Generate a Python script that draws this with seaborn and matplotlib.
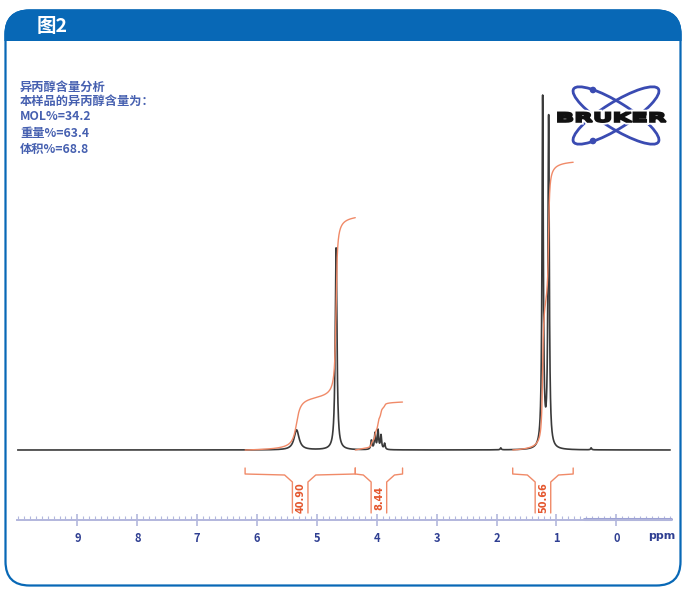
import numpy as np
import pandas as pd
import seaborn as sns
import matplotlib.pyplot as plt
from matplotlib.patches import FancyBboxPatch, Rectangle, Ellipse, Circle, PathPatch
from matplotlib.textpath import TextPath
from matplotlib.font_manager import FontProperties
from matplotlib.transforms import Affine2D
from matplotlib.ticker import MultipleLocator, FixedLocator

# peaks: shift (ppm), height, half width (ppm)
peak_ppm = [5.34, 4.68, 4.09, 4.03, 3.98, 3.93, 3.87, 1.93, 1.23, 1.13, 0.42]
peak_height = [20, 202, 9, 16, 19, 14, 6, 2, 350, 330, 2]
peak_width = [0.05, 0.017, 0.012, 0.012, 0.012, 0.012, 0.012, 0.01, 0.013, 0.013, 0.01]

# integral regions (ppm) and their values
region_start = [6.20, 4.36, 1.73]
region_end = [4.36, 3.57, 0.72]
integral_value = [40.90, 8.44, 50.66]

tick_values = [9, 8, 7, 6, 5, 4, 3, 2, 1, 0]

title_text = "图2"
info_lines = ["异丙醇含量分析", "本样品的异丙醇含量为：", "MOL%=34.2", "重量%=63.4", "体积%=68.8"]
info_y = [87, 101, 117, 133, 150]

BLUE = "#0868b6"
TXT_BLUE = "#4660b0"
AXIS_BLUE = "#b3b7dd"
TICK_BLUE = "#2f3f92"
ORANGE = "#f08a68"
RED = "#e4572e"
LOGO_BLUE = "#3a4bb2"

sns.set_theme(style="white")
plt.rcParams["font.family"] = ["Noto Sans CJK SC", "DejaVu Sans"]

ppm = np.linspace(10.0, -0.9, 6000)
spec = np.zeros_like(ppm)
for c, h, w in zip(peak_ppm, peak_height, peak_width):
    spec += h * w ** 2 / ((ppm - c) ** 2 + w ** 2)
df = pd.DataFrame({"ppm": ppm, "intensity": spec})

fig = plt.figure(figsize=(6.83, 5.89), dpi=100)

# frame and header
deco = fig.add_axes([0, 0, 1, 1], zorder=0)
deco.set_xlim(0, 683)
deco.set_ylim(589, 0)
deco.axis("off")
frame = FancyBboxPatch((5.5, 10.5), 675, 575, boxstyle="round,pad=0,rounding_size=24",
                       fc="white", ec=BLUE, lw=1.6)
deco.add_patch(frame)
header = FancyBboxPatch((5.5, 10.5), 675, 575, boxstyle="round,pad=0,rounding_size=24",
                        fc=BLUE, ec=BLUE, lw=1.6)
deco.add_patch(header)
header.set_clip_path(Rectangle((0, 0), 683, 40.5, transform=deco.transData))
deco.text(37, 27, title_text, color="white", fontsize=14, fontweight="bold",
          ha="left", va="center")

for line, y in zip(info_lines, info_y):
    deco.text(20, y, line, color=TXT_BLUE, fontsize=8.8, fontweight="bold",
              ha="left", va="center")

# logo
for ang in (32, -32):
    deco.add_patch(Ellipse((616, 115.5), 100, 26, angle=ang, fill=False,
                           ec=LOGO_BLUE, lw=2.0, zorder=2))
for cy in (90, 141):
    deco.add_patch(Circle((593, cy), 3.3, fc=LOGO_BLUE, ec="none", zorder=2))
tp = TextPath((0, 0), "BRUKER", size=10, prop=FontProperties(family="DejaVu Sans", weight="bold"))
ext = tp.get_extents()
sx = 108 / ext.width
sy = 9.5 / ext.height
tr = Affine2D().translate(-ext.x0, -ext.y0).scale(sx, -sy).translate(558, 122)
logo_path = tr.transform_path(tp)
deco.add_patch(PathPatch(logo_path, fc="white", ec="white", lw=4.0, zorder=3))
deco.add_patch(PathPatch(logo_path, fc="#111111", ec="#111111", lw=1.4, zorder=4))

# spectrum axes
x_left, x_right = 10.01, -0.914
ax = fig.add_axes([17 / 683, 1 - 520 / 589, (671 - 17) / 683, 460 / 589], zorder=2)
ax.patch.set_visible(False)
sns.lineplot(data=df, x="ppm", y="intensity", ax=ax, color="#3a3a3a", lw=1.2,
             estimator=None, sort=False)

for a, b, v in zip(region_start, region_end, integral_value):
    m = (ppm <= a) & (ppm >= b)
    cum = np.cumsum(spec[m])
    cum = cum / cum[-1] * v * 5.68
    sns.lineplot(x=ppm[m], y=cum, ax=ax, color=ORANGE, lw=1.0, estimator=None, sort=False)
    c = (a + b) / 2
    w = 0.13
    s = 0.13
    for side in (1, -1):
        end = a if side == 1 else b
        ax.plot([end, end, c + side * (w + s), c + side * w, c + side * w],
                [-18, -24, -25, -32, -63], color=ORANGE, lw=1.0, clip_on=False)
    ax.text(c, -48, f"{v:.2f}", rotation=90, color=RED, fontsize=7, fontweight="bold",
            ha="center", va="center", family="DejaVu Sans")

ax.set_xlim(x_left, x_right)
ax.set_ylim(-70, 390)
for sp in ("top", "left", "right"):
    ax.spines[sp].set_visible(False)
ax.spines["bottom"].set_color(AXIS_BLUE)
ax.spines["bottom"].set_linewidth(1.4)
ax.plot([0.54, x_right], [-69.3, -69.3], color="#9da2d4", lw=2.2, clip_on=False)
ax.xaxis.set_major_locator(FixedLocator(tick_values))
ax.xaxis.set_minor_locator(MultipleLocator(0.1))
ax.set_xticklabels([str(t) for t in tick_values])
ax.tick_params(axis="x", which="major", direction="inout", length=8, width=1.2,
               color=AXIS_BLUE, labelcolor=TICK_BLUE, labelsize=8, pad=5, bottom=True)
ax.tick_params(axis="x", which="minor", direction="in", length=3, width=0.8,
               color=AXIS_BLUE, bottom=True)
for lab in ax.get_xticklabels():
    lab.set_fontweight("bold")
ax.set_yticks([])
ax.set_xlabel("")
ax.set_ylabel("")
ax.text(-0.76, -86, "ppm", color=TICK_BLUE, fontsize=8, fontweight="bold",
        ha="center", va="center", family="DejaVu Sans")

fig.savefig("out.png", dpi=100)
